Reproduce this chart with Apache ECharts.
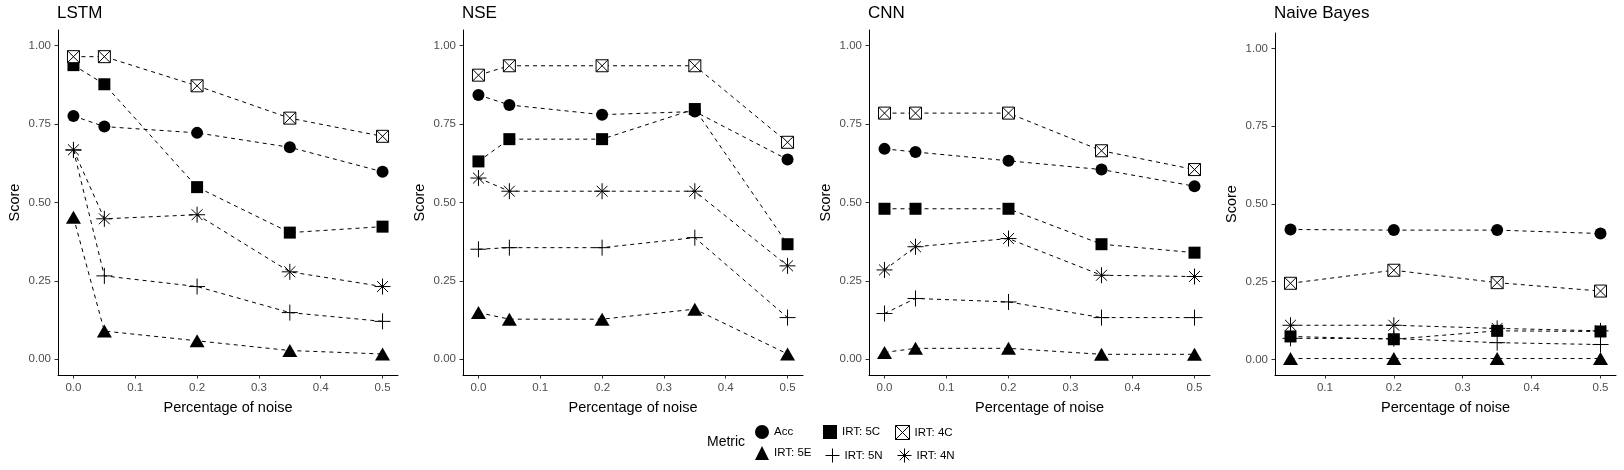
<!DOCTYPE html>
<html>
<head>
<meta charset="utf-8">
<script src="https://cdn.jsdelivr.net/npm/echarts@6/dist/echarts.min.js"></script>
<style>
  html, body { margin: 0; padding: 0; background: #fff; }
  #chart { width: 1624px; height: 470px; }
</style>
</head>
<body>
<div id="chart"></div>
<script>
// panels and metrics
const panels = ['LSTM', 'NSE', 'CNN', 'Naive Bayes']
const metrics = ['Acc', 'IRT: 5E', 'IRT: 5C', 'IRT: 5N', 'IRT: 4C', 'IRT: 4N']

// x values (noise levels)
const noiseFull = [0, 0.05, 0.2, 0.35, 0.5]
const noiseNB = [0.05, 0.2, 0.35, 0.5]

// tick labels
const xTicks = [0, 0.1, 0.2, 0.3, 0.4, 0.5]
const xTicksNB = [0.1, 0.2, 0.3, 0.4, 0.5]
const yTicks = [0, 0.25, 0.5, 0.75, 1]

// LSTM
const lstmAcc = [0.776, 0.742, 0.722, 0.676, 0.598]
const lstm5E = [0.453, 0.090, 0.059, 0.028, 0.017]
const lstm5C = [0.938, 0.877, 0.549, 0.404, 0.423]
const lstm5N = [0.667, 0.266, 0.232, 0.149, 0.121]
const lstm4C = [0.965, 0.965, 0.872, 0.769, 0.711]
const lstm4N = [0.668, 0.448, 0.461, 0.279, 0.232]

// NSE
const nseAcc = [0.843, 0.811, 0.780, 0.790, 0.637]
const nse5E = [0.149, 0.128, 0.128, 0.160, 0.017]
const nse5C = [0.631, 0.702, 0.702, 0.798, 0.367]
const nse5N = [0.351, 0.356, 0.356, 0.388, 0.133]
const nse4C = [0.906, 0.936, 0.936, 0.936, 0.692]
const nse4N = [0.578, 0.536, 0.536, 0.536, 0.298]

// CNN
const cnnAcc = [0.671, 0.661, 0.633, 0.605, 0.552]
const cnn5E = [0.022, 0.035, 0.035, 0.016, 0.016]
const cnn5C = [0.480, 0.480, 0.480, 0.367, 0.340]
const cnn5N = [0.146, 0.194, 0.183, 0.133, 0.133]
const cnn4C = [0.785, 0.785, 0.785, 0.665, 0.605]
const cnn4N = [0.285, 0.359, 0.385, 0.268, 0.264]

// Naive Bayes
const nbAcc = [0.418, 0.416, 0.416, 0.405]
const nb5E = [0.003, 0.003, 0.003, 0.003]
const nb5C = [0.074, 0.065, 0.092, 0.090]
const nb5N = [0.068, 0.067, 0.054, 0.048]
const nb4C = [0.245, 0.287, 0.247, 0.220]
const nb4N = [0.110, 0.110, 0.100, 0.092]

const panelData = [
  { x: noiseFull, ticks: xTicks, min: -0.025, max: 0.525, vals: [lstmAcc, lstm5E, lstm5C, lstm5N, lstm4C, lstm4N] },
  { x: noiseFull, ticks: xTicks, min: -0.025, max: 0.525, vals: [nseAcc, nse5E, nse5C, nse5N, nse4C, nse4N] },
  { x: noiseFull, ticks: xTicks, min: -0.025, max: 0.525, vals: [cnnAcc, cnn5E, cnn5C, cnn5N, cnn4C, cnn4N] },
  { x: noiseNB, ticks: xTicksNB, min: 0.0275, max: 0.5225, vals: [nbAcc, nb5E, nb5C, nb5N, nb4C, nb4N] },
]

const FONT = 'Liberation Sans'
const BOXX = 'path://M0,0L10,0L10,10L0,10ZM0,0L10,10M10,0L0,10'
const PLUS = 'path://M5,0L5,10M0,5L10,5'
const STAR = 'path://M5,0L5,10M0,5L10,5M1.6,1.6L8.4,8.4M8.4,1.6L1.6,8.4'

// symbol per metric
const markers = {
  'Acc': { symbol: 'circle', size: 12, style: { color: '#000' } },
  'IRT: 5E': { symbol: 'triangle', size: [15, 13], style: { color: '#000' } },
  'IRT: 5C': { symbol: 'rect', size: 12, style: { color: '#000' } },
  'IRT: 5N': { symbol: PLUS, size: 16, style: { color: 'none', borderColor: '#000', borderWidth: 1 } },
  'IRT: 4C': { symbol: BOXX, size: 12, style: { color: '#fff', borderColor: '#000', borderWidth: 1 } },
  'IRT: 4N': { symbol: STAR, size: 16, style: { color: 'none', borderColor: '#000', borderWidth: 1 } },
}

const grids = [
  { left: 58, top: 30, width: 340, height: 345 },
  { left: 463, top: 30, width: 340, height: 345 },
  { left: 869, top: 30, width: 341, height: 345 },
  { left: 1275, top: 33, width: 341, height: 342 },
]

const xAxes = panelData.map((p, i) => ({
  type: 'value',
  gridIndex: i,
  min: p.min,
  max: p.max,
  name: 'Percentage of noise',
  nameLocation: 'middle',
  nameGap: 25,
  nameTextStyle: { fontFamily: FONT, fontSize: 14.5, color: '#000' },
  axisLine: { onZero: false, lineStyle: { color: '#000', width: 1 } },
  axisTick: { customValues: p.ticks, length: 3.5, lineStyle: { color: '#333' } },
  axisLabel: {
    customValues: p.ticks,
    margin: 7,
    fontFamily: FONT,
    fontSize: 11.5,
    color: '#4D4D4D',
    formatter: v => v.toFixed(1),
  },
  splitLine: { show: false },
}))

const yAxes = panelData.map((p, i) => ({
  type: 'value',
  gridIndex: i,
  min: -0.05,
  max: 1.05,
  name: 'Score',
  nameLocation: 'middle',
  nameGap: 36,
  nameTextStyle: { fontFamily: FONT, fontSize: 14.5, color: '#000' },
  axisLine: { show: true, onZero: false, lineStyle: { color: '#000', width: 1 } },
  axisTick: { show: true, customValues: yTicks, length: 3.5, lineStyle: { color: '#333' } },
  axisLabel: {
    customValues: yTicks,
    margin: 7,
    fontFamily: FONT,
    fontSize: 11.5,
    color: '#4D4D4D',
    formatter: v => v.toFixed(2),
  },
  splitLine: { show: false },
}))

const series = []
panelData.forEach((p, i) => {
  // lines first, then points on top
  metrics.forEach((m, k) => {
    series.push({
      type: 'line',
      name: m,
      xAxisIndex: i,
      yAxisIndex: i,
      data: p.x.map((x, j) => [x, p.vals[k][j]]),
      showSymbol: false,
      symbol: 'none',
      silent: true,
      z: 2,
      lineStyle: { color: '#000', width: 1, type: [4, 4] },
    })
  })
  metrics.forEach((m, k) => {
    const mk = markers[m]
    series.push({
      type: 'scatter',
      name: m,
      xAxisIndex: i,
      yAxisIndex: i,
      data: p.x.map((x, j) => [x, p.vals[k][j]]),
      symbol: mk.symbol,
      symbolSize: mk.size,
      z: 3,
      itemStyle: { opacity: 1, ...mk.style },
    })
  })
})

// legend: 2 rows x 3 columns, one legend box per entry
const legendPos = {
  'Acc': [755, 0], 'IRT: 5E': [755, 1],
  'IRT: 5C': [823, 0], 'IRT: 5N': [823, 1],
  'IRT: 4C': [895, 0], 'IRT: 4N': [895, 1],
}
const legends = metrics.map(m => ({
  left: legendPos[m][0],
  top: 425 + legendPos[m][1] * 21,
  padding: 0,
  itemWidth: 14,
  itemHeight: 14,
  selectedMode: false,
  textStyle: { fontFamily: FONT, fontSize: 11.5, color: '#000' },
  data: [{ name: m, icon: markers[m].symbol, itemStyle: { opacity: 1, ...markers[m].style } }],
}))

const titles = panels.map((t, i) => ({
  text: t,
  left: grids[i].left - 1,
  top: 5,
  padding: 0,
  textStyle: { fontFamily: FONT, fontSize: 17, fontWeight: 'normal', color: '#000' },
}))
titles.push({
  text: 'Metric',
  left: 707,
  top: 435,
  padding: 0,
  textStyle: { fontFamily: FONT, fontSize: 14, fontWeight: 'normal', color: '#000' },
})

const chart = echarts.init(document.getElementById('chart'), null, { renderer: 'canvas' })
chart.setOption({
  backgroundColor: '#fff',
  animation: false,
  title: titles,
  legend: legends,
  grid: grids,
  xAxis: xAxes,
  yAxis: yAxes,
  series,
})
</script>
</body>
</html>
